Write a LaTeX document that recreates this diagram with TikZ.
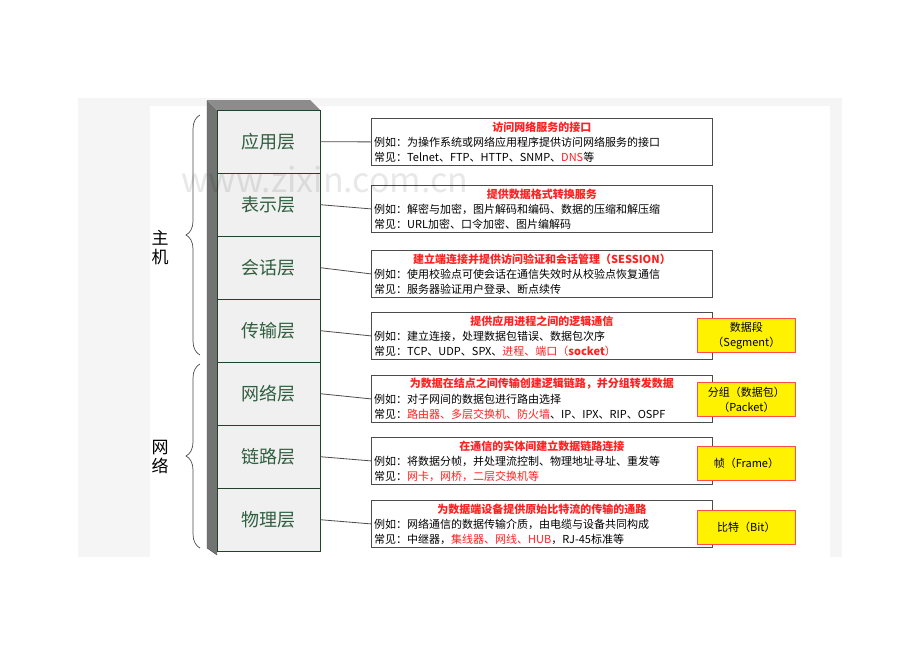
\documentclass[tikz,border=0pt]{standalone}
\usepackage{fontspec}
\setmainfont{Noto Sans CJK SC}
\usetikzlibrary{decorations.pathreplacing}
\definecolor{lay}{HTML}{2F5F3F}
\definecolor{red1}{HTML}{FF2020}
\begin{document}
\begin{tikzpicture}[x=1pt,y=-1pt,
  layer/.style={draw=lay!70!black,fill=black!6,minimum width=103pt,minimum height=63pt,anchor=north west,inner sep=0pt,font=\fontsize{18}{18}\selectfont,text=lay},
  info/.style={draw=black!70,line width=0.8pt,fill=white,minimum width=341pt,minimum height=47pt,anchor=north west,inner sep=0pt},
  tl/.style={font=\fontsize{11}{13}\selectfont,anchor=west,inner sep=0pt},
  hd/.style={font=\fontsize{11}{13}\selectfont\bfseries,text=red1,inner sep=0pt},
  unit/.style={draw=red1!80,line width=0.8pt,fill=yellow,minimum width=98pt,minimum height=34pt,anchor=north west,align=center,inner sep=0pt,font=\fontsize{11}{15}\selectfont},
  conn/.style={draw=black!70,line width=0.8pt},
  brc/.style={decorate,decoration={brace,amplitude=14pt},line width=0.7pt,black!70}]
\useasboundingbox (0,0) rectangle (920,651);
\fill[black!4] (78,98) rectangle (842,557);
\fill[white] (150,106) rectangle (830,557);
% stack side
\fill[black!55] (207,100) -- (217,110) -- (217,555) -- (207,548) -- cycle;
\fill[black!45] (207,100) -- (310,100) -- (320,110) -- (217,110) -- cycle;
\draw[black!70] (207,100) -- (207,548) -- (217,555);
\foreach \n/\t/\y in {l1/应用层/110,l2/表示层/173,l3/会话层/236,l4/传输层/299,l5/网络层/362,l6/链路层/425,l7/物理层/488}
  \node[layer] (\n) at (217,\y) {\t};
% info boxes
\foreach \n/\y in {b1/118,b2/185,b3/250,b4/312,b5/375,b6/437,b7/500}
  \node[info] (\n) at (371,\y) {};
\foreach \i in {1,...,7} \draw[conn] (l\i.east) -- (b\i.west);
\newcommand{\infobox}[4]{%
  \node[hd] at ([yshift=-9pt]#1.north) {#2};
  \node[tl] at ([xshift=3pt,yshift=-24pt]#1.north west) {#3};
  \node[tl] at ([xshift=3pt,yshift=-39pt]#1.north west) {#4};}
\infobox{b1}{访问网络服务的接口}{例如：为操作系统或网络应用程序提供访问网络服务的接口}{常见：Telnet、FTP、HTTP、SNMP、\textcolor{red1}{DNS}等}
\infobox{b2}{提供数据格式转换服务}{例如：解密与加密，图片解码和编码、数据的压缩和解压缩}{常见：URL加密、口令加密、图片编解码}
\infobox{b3}{建立端连接并提供访问验证和会话管理（SESSION）}{例如：使用校验点可使会话在通信失效时从校验点恢复通信}{常见：服务器验证用户登录、断点续传}
\infobox{b4}{提供应用进程之间的逻辑通信}{例如：建立连接，处理数据包错误、数据包次序}{常见：TCP、UDP、SPX、\textcolor{red1}{进程、端口（\textbf{socket}）}}
\infobox{b5}{为数据在结点之间传输创建逻辑链路，并分组转发数据}{例如：对子网间的数据包进行路由选择}{常见：\textcolor{red1}{路由器、多层交换机、防火墙}、IP、IPX、RIP、OSPF}
\infobox{b6}{在通信的实体间建立数据链路连接}{例如：将数据分帧，并处理流控制、物理地址寻址、重发等}{常见：\textcolor{red1}{网卡，网桥，二层交换机等}}
\infobox{b7}{为数据端设备提供原始比特流的传输的通路}{例如：网络通信的数据传输介质，由电缆与设备共同构成}{常见：中继器，\textcolor{red1}{集线器、网线、HUB}，RJ-45标准等}
% units
\node[unit] (u1) at (697,318) {数据段\\（Segment）};
\node[unit] (u2) at (697,382) {分组（数据包）\\（Packet）};
\node[unit] (u3) at (697,446) {帧（Frame）};
\node[unit] (u4) at (697,510) {比特（Bit）};
% braces
\coordinate (h1) at (200,115); \coordinate (h2) at (200,355);
\coordinate (n1) at (200,364); \coordinate (n2) at (200,548);
\draw[brc] (h2) -- (h1);
\draw[brc] (n2) -- (n1);
\node[font=\fontsize{17}{19}\selectfont,align=center] (zj) at (160,248) {主\\机};
\node[font=\fontsize{17}{19}\selectfont,align=center] (wl) at (160,457) {网\\络};
\node[font=\fontsize{34}{34}\selectfont,text=black,opacity=0.09] (wm) at (325,180) {www.zixin.com.cn};
\end{tikzpicture}
\end{document}
